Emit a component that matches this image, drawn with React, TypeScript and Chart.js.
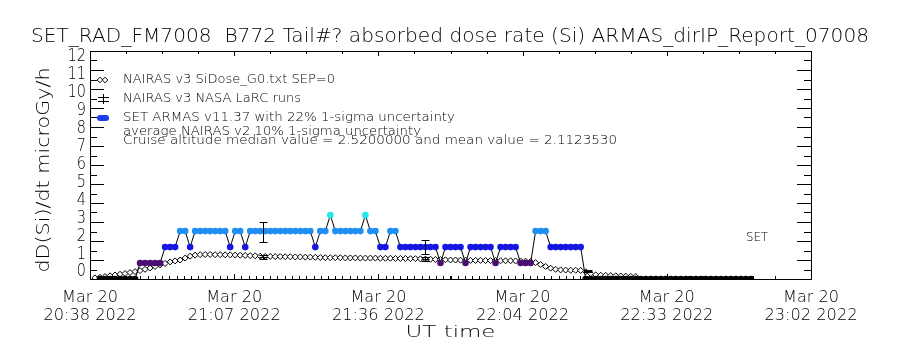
import React, { useEffect, useRef } from 'react';
import { Chart, registerables } from 'chart.js';
Chart.register(...registerables);

const TITLE = 'SET_RAD_FM7008  B772 Tail#? absorbed dose rate (Si) ARMAS_dirIP_Report_07008';
const Y_TITLE = 'dD(Si)/dt microGy/h';
const X_TITLE = 'UT time';
const X_MAJOR_MIN = [0, 28.8, 57.6, 86.4, 115.2, 144];
const X_LABEL_1 = ['Mar 20', 'Mar 20', 'Mar 20', 'Mar 20', 'Mar 20', 'Mar 20'];
const X_LABEL_2 = ['20:38 2022', '21:07 2022', '21:36 2022', '22:04 2022', '22:33 2022', '23:02 2022'];
const Y_LABELS = ['0', '1', '2', '3', '4', '5', '6', '7', '8', '9', '10', '11', '12'];

const LEGEND_TEXT = [
  'NAIRAS v3 SiDose_G0.txt SEP=0',
  'NAIRAS v3 NASA LaRC runs',
  'SET ARMAS v11.37 with 22% 1-sigma uncertainty',
  'average NAIRAS v2 10% 1-sigma uncertainty',
  'Cruise altitude median value = 2.5200000 and mean value = 2.1123530',
];
const SET_LABEL = 'SET';

// ARMAS dose rate, minutes after 20:38 UT
const ARMAS_MIN = [
  2, 3, 4, 5, 6, 7, 8, 9, 10, 11, 12, 13, 14, 15, 16, 17, 18, 19, 20, 21,
  22, 23, 24, 25, 26, 27, 28, 29, 30, 31, 32, 33, 34, 35, 36, 37, 38, 39, 40, 41,
  42, 43, 44, 45, 46, 47, 48, 49, 50, 51, 52, 53, 54, 55, 56, 57, 58, 59, 60, 61,
  62, 63, 64, 65, 66, 67, 68, 69, 70, 71, 72, 73, 74, 75, 76, 77, 78, 79, 80, 81,
  82, 83, 84, 85, 86, 87, 88, 89, 90, 91, 92, 93, 94, 95, 96, 97, 98, 99, 100, 101,
  102, 103, 104, 105, 106, 107, 108, 109, 110, 111, 112, 113, 114, 115, 116, 117, 118, 119, 120, 121,
  122, 123, 124, 125, 126, 127, 128, 129, 130, 131, 132,
];
const ARMAS_VAL = [
  0, 0, 0, 0, 0, 0, 0, 0, 0.84, 0.84, 0.84, 0.84, 0.84, 1.68, 1.68, 1.68, 2.52, 2.52, 1.68, 2.52,
  2.52, 2.52, 2.52, 2.52, 2.52, 2.52, 1.68, 2.52, 2.52, 1.68, 2.52, 2.52, 2.52, 2.52, 2.52, 2.52, 2.52, 2.52, 2.52, 2.52,
  2.52, 2.52, 2.52, 1.68, 2.52, 2.52, 3.36, 2.52, 2.52, 2.52, 2.52, 2.52, 2.52, 3.36, 2.52, 2.52, 1.68, 1.68, 2.52, 2.52,
  1.68, 1.68, 1.68, 1.68, 1.68, 1.68, 1.68, 1.68, 0.84, 1.68, 1.68, 1.68, 1.68, 0.84, 1.68, 1.68, 1.68, 1.68, 1.68, 0.84,
  1.68, 1.68, 1.68, 1.68, 0.84, 0.84, 0.84, 2.52, 2.52, 2.52, 1.68, 1.68, 1.68, 1.68, 1.68, 1.68, 1.68, 0, 0, 0,
  0, 0, 0, 0, 0, 0, 0, 0, 0, 0, 0, 0, 0, 0, 0, 0, 0, 0, 0, 0,
  0, 0, 0, 0, 0, 0, 0, 0, 0, 0, 0,
];
const LEVELS = [0, 0.84, 1.68, 2.52, 3.36];
const LEVEL_COLORS = ['#000000', '#4a0e72', '#1616e2', '#1e8ef2', '#24e8e8'];

// NAIRAS v3 model dose rate
const NAIRAS_MIN = [
  1, 2, 3, 4, 5, 6, 7, 8, 9, 10, 11, 12, 13, 14, 15, 16, 17, 18, 19, 20,
  21, 22, 23, 24, 25, 26, 27, 28, 29, 30, 31, 32, 33, 34, 35, 36, 37, 38, 39, 40,
  41, 42, 43, 44, 45, 46, 47, 48, 49, 50, 51, 52, 53, 54, 55, 56, 57, 58, 59, 60,
  61, 62, 63, 64, 65, 66, 67, 68, 69, 70, 71, 72, 73, 74, 75, 76, 77, 78, 79, 80,
  81, 82, 83, 84, 85, 86, 87, 88, 89, 90, 91, 92, 93, 94, 95, 96, 97, 98, 99, 100,
  101, 102, 103, 104, 105, 106, 107, 108, 109,
];
const NAIRAS_VAL = [
  0.06, 0.09, 0.13, 0.17, 0.21, 0.25, 0.29, 0.34, 0.39, 0.44, 0.51, 0.58, 0.66, 0.74, 0.82, 0.9, 0.95, 1.0, 1.1, 1.2,
  1.26, 1.28, 1.29, 1.29, 1.28, 1.28, 1.27, 1.27, 1.26, 1.25, 1.24, 1.23, 1.22, 1.2, 1.19, 1.19, 1.18, 1.18, 1.17, 1.17,
  1.16, 1.16, 1.15, 1.15, 1.14, 1.13, 1.12, 1.12, 1.12, 1.12, 1.11, 1.11, 1.11, 1.1, 1.1, 1.1, 1.1, 1.09, 1.09, 1.09,
  1.08, 1.08, 1.08, 1.07, 1.07, 1.06, 1.05, 1.04, 1.03, 1.02, 1.01, 1.0, 1.0, 0.99, 0.99, 0.98, 0.98, 0.98, 0.97, 0.97,
  0.97, 0.96, 0.96, 0.96, 0.95, 0.95, 0.94, 0.92, 0.86, 0.76, 0.66, 0.57, 0.51, 0.48, 0.47, 0.46, 0.46, 0.45, 0.38, 0.28,
  0.22, 0.2, 0.19, 0.18, 0.17, 0.16, 0.15, 0.14, 0.13,
];

// Error bars: ARMAS average (22%) and NAIRAS (10%)
const ERR_MIN = [34.5, 67, 99.4];
const ARMAS_ERR_LOW = [1.93, 1.32, 0];
const ARMAS_ERR_HIGH = [3.02, 2.05, 0];
const NAIRAS_ERR_LOW = [1.05, 0.95, 0.38];
const NAIRAS_ERR_MID = [1.16, 1.06, 0.42];
const NAIRAS_ERR_HIGH = [1.27, 1.17, 0.46];

const FONT = '"DejaVu Sans"';

function txt(
  ctx: CanvasRenderingContext2D, s: string, x: number, y: number, size: number,
  align: CanvasTextAlign, width?: number, rot = 0, sx0 = 1,
) {
  ctx.save();
  ctx.font = `200 ${size}px ${FONT}`;
  const w = ctx.measureText(s).width;
  const sx = width ? width / w : sx0;
  ctx.translate(x, y);
  if (rot) ctx.rotate(rot);
  ctx.scale(sx, 1);
  ctx.textBaseline = 'middle';
  ctx.textAlign = align;
  ctx.fillStyle = '#000';
  ctx.fillText(s, 0, 0);
  ctx.restore();
}

function colorFor(v: number) {
  let best = 0;
  for (let i = 0; i < LEVELS.length; i++) {
    if (Math.abs(LEVELS[i] - v) < Math.abs(LEVELS[best] - v)) best = i;
  }
  return LEVEL_COLORS[best];
}

const decorPlugin = {
  id: 'decor',
  afterDraw(chart: any) {
    const ctx: CanvasRenderingContext2D = chart.ctx;
    const xs = chart.scales.x;
    const ys = chart.scales.y;
    const { left, right, top, bottom } = chart.chartArea;
    ctx.save();
    ctx.strokeStyle = '#000';
    ctx.lineWidth = 1;
    // frame
    ctx.strokeRect(Math.round(left) + 0.5, Math.round(top) + 0.5, Math.round(right - left), Math.round(bottom - top));
    const line = (x1: number, y1: number, x2: number, y2: number) => {
      ctx.beginPath();
      ctx.moveTo(x1, y1);
      ctx.lineTo(x2, y2);
      ctx.stroke();
    };
    // y ticks
    for (let i = 0; i <= 24; i++) {
      const v = i / 2;
      const py = Math.round(ys.getPixelForValue(v)) + 0.5;
      const len = i % 2 === 0 ? 14 : 7;
      line(left, py, left + len, py);
      line(right, py, right - len, py);
    }
    // y labels (IDL places them slightly compressed within the frame)
    const labBottom = ys.getPixelForValue(0) - 7;
    const labTop = ys.getPixelForValue(12) + 6;
    Y_LABELS.forEach((lab, i) => {
      const py = labBottom + (labTop - labBottom) * (i / (Y_LABELS.length - 1));
      txt(ctx, lab, left - 4, py, 17, 'right', undefined, 0, 0.85);
    });
    // x major ticks
    X_MAJOR_MIN.forEach((m) => {
      const px = Math.round(xs.getPixelForValue(m)) + 0.5;
      line(px, bottom, px, bottom - 5);
      line(px, top, px, top + 5);
    });
    // x minor ticks
    for (let m = 7.2; m < 144; m += 7.2) {
      const px = Math.round(xs.getPixelForValue(m)) + 0.5;
      line(px, bottom, px, bottom - 3);
      line(px, top, px, top + 3);
    }
    // dense bottom ticks along data track
    for (let m = 10.08; m <= 133; m += 1.44) {
      const px = Math.round(xs.getPixelForValue(m)) + 0.5;
      line(px, bottom, px, bottom - 3);
    }
    // x labels
    X_MAJOR_MIN.forEach((m, i) => {
      const px = xs.getPixelForValue(m);
      txt(ctx, X_LABEL_1[i], px, 298, 16, 'center', 56);
      txt(ctx, X_LABEL_2[i], px, 316, 16, 'center', 93);
    });
    txt(ctx, X_TITLE, (left + right) / 2, 333, 16, 'center', 90);
    txt(ctx, Y_TITLE, 45, 170, 17, 'center', 205, -Math.PI / 2);
    txt(ctx, TITLE, 450, 37, 19, 'center', 838);
    // legend
    const lx = 123;
    const ly = [80, 99, 118, 132, 141];
    const lw = [212, 178, 332, 298, 494];
    LEGEND_TEXT.forEach((s, i) => txt(ctx, s, lx, ly[i], 13, 'left', lw[i]));
    // legend symbols
    const diamond = (cx: number, cy: number, r: number) => {
      ctx.beginPath();
      ctx.moveTo(cx, cy - r);
      ctx.lineTo(cx + r, cy);
      ctx.lineTo(cx, cy + r);
      ctx.lineTo(cx - r, cy);
      ctx.closePath();
      ctx.fillStyle = '#fff';
      ctx.fill();
      ctx.stroke();
    };
    diamond(100, ly[0], 2.8);
    diamond(105, ly[0], 2.8);
    line(103.5, ly[1] - 5, 103.5, ly[1] + 5);
    line(98, ly[1] - 1.5, 109, ly[1] - 1.5);
    line(98, ly[1] + 2.5, 109, ly[1] + 2.5);
    ctx.fillStyle = '#1a3ee8';
    ctx.beginPath();
    ctx.roundRect(97, ly[2] - 3, 12, 6, 3);
    ctx.fill();
    txt(ctx, SET_LABEL, 757, 238, 13, 'center', 22);
    // error bars
    ERR_MIN.forEach((m, i) => {
      const px = Math.round(xs.getPixelForValue(m)) + 0.5;
      if (ARMAS_ERR_HIGH[i] > ARMAS_ERR_LOW[i]) {
        const y1 = Math.round(ys.getPixelForValue(ARMAS_ERR_LOW[i])) + 0.5;
        const y2 = Math.round(ys.getPixelForValue(ARMAS_ERR_HIGH[i])) + 0.5;
        line(px, y1, px, y2);
        line(px - 4, y1, px + 4, y1);
        line(px - 4, y2, px + 4, y2);
      }
      const n1 = Math.round(ys.getPixelForValue(NAIRAS_ERR_LOW[i])) + 0.5;
      const n2 = Math.round(ys.getPixelForValue(NAIRAS_ERR_HIGH[i])) + 0.5;
      const nm = Math.round(ys.getPixelForValue(NAIRAS_ERR_MID[i])) + 0.5;
      line(px, n1, px, n2);
      line(px - 4, n1, px + 4, n1);
      line(px - 4, n2, px + 4, n2);
      line(px - 4, nm, px + 4, nm);
    });
    ctx.restore();
  },
};

export default function App() {
  const ref = useRef<HTMLCanvasElement>(null);
  useEffect(() => {
    if (!ref.current) return;
    const armas = ARMAS_MIN.map((m, i) => ({ x: m, y: ARMAS_VAL[i] }));
    const nairas = NAIRAS_MIN.map((m, i) => ({ x: m, y: NAIRAS_VAL[i] }));
    const chart = new Chart(ref.current, {
      type: 'scatter',
      data: {
        datasets: [
          {
            label: 'SET ARMAS',
            data: armas,
            showLine: true,
            borderColor: '#000',
            borderWidth: 1,
            pointRadius: 3.3,
            pointBorderWidth: 0,
            pointBackgroundColor: ARMAS_VAL.map(colorFor),
            clip: 0,
            order: 0,
          } as any,
          {
            label: 'NAIRAS v3',
            data: nairas,
            showLine: false,
            pointStyle: 'rectRot',
            pointRadius: 3,
            pointBackgroundColor: '#fff',
            pointBorderColor: '#000',
            pointBorderWidth: 1,
            clip: 0,
            order: 1,
          } as any,
        ],
      },
      options: {
        responsive: false,
        animation: false,
        devicePixelRatio: 1,
        layout: { padding: { left: 90, right: 89, top: 51, bottom: 71 } },
        scales: {
          x: { type: 'linear', min: 0, max: 144, display: false },
          y: { type: 'linear', min: 0, max: 12, display: false },
        },
        plugins: { legend: { display: false }, tooltip: { enabled: false } },
      },
      plugins: [decorPlugin],
    });
    return () => chart.destroy();
  }, []);
  return (
    <div style={{ position: 'absolute', left: 0, top: 0, width: 900, height: 350, background: '#fff' }}>
      <canvas ref={ref} width={900} height={350} />
    </div>
  );
}
